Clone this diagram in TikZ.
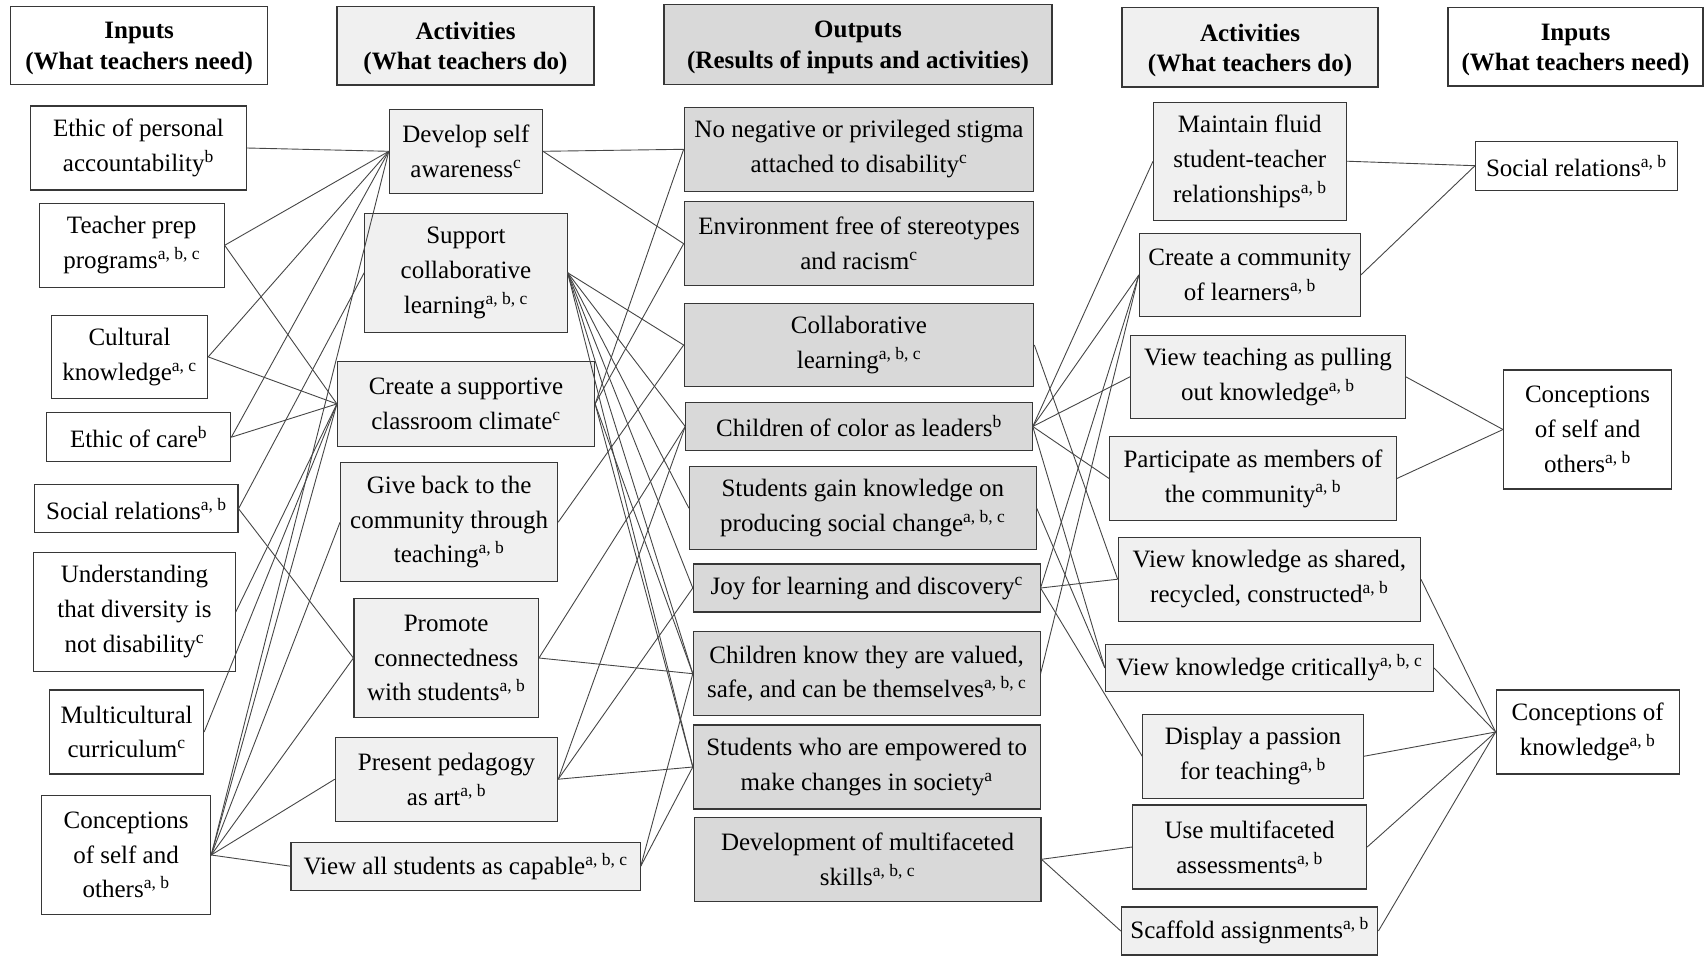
\documentclass[tikz,border=0pt]{standalone}
\usepackage{fontspec}
\setmainfont{Liberation Serif}
\definecolor{actfill}{RGB}{240,240,240}
\definecolor{outfill}{RGB}{217,217,217}
\definecolor{edgec}{RGB}{55,55,55}
\definecolor{linkc}{RGB}{70,70,70}
\begin{document}
\begin{tikzpicture}[x=1pt,y=-1pt,
  box/.style={draw=edgec, line width=1.1pt, align=center, inner sep=0pt, font=\fontsize{25}{34.8}\selectfont},
  sz/.style 2 args={minimum width=#1pt, minimum height=#2pt},
  inpbox/.style={box, fill=white},
  actbox/.style={box, fill=actfill},
  outbox/.style={box, fill=outfill},
  hdr/.style={align=center, inner sep=0pt, yshift=-3pt, font=\fontsize{25}{30.5}\selectfont\bfseries},
  link/.style={draw=linkc, line width=0.9pt}]
\useasboundingbox (0,0) rectangle (1705,956);
% headers
\node[inpbox,sz={256.6}{78.3}] (hIL) at (139.2,45.6) {};
\node[hdr] (tIL) at (hIL.center) {Inputs\\(What teachers need)};
\node[actbox,sz={257}{78.5}] (hAL) at (465.5,45.7) {};
\node[hdr] (tAL) at (hAL.center) {Activities\\(What teachers do)};
\node[outbox,sz={388}{79.7}] (hO) at (858,44.2) {};
\node[hdr] (tO) at (hO.center) {Outputs\\(Results of inputs and activities)};
\node[actbox,sz={256}{79.4}] (hAR) at (1250,47.3) {};
\node[hdr] (tAR) at (hAR.center) {Activities\\(What teachers do)};
\node[inpbox,sz={255}{78.4}] (hIR) at (1575.5,46.8) {};
\node[hdr] (tIR) at (hIR.center) {Inputs\\(What teachers need)};
% left inputs
\node[inpbox,sz={216}{84}] (epa) at (138.4,148) {Ethic of personal\\accountability\textsuperscript{b}};
\node[inpbox,sz={184.8}{84}] (tpp) at (131.7,245.3) {Teacher prep\\programs\textsuperscript{a, b, c}};
\node[inpbox,sz={156.3}{83.7}] (cul) at (129.5,356.9) {Cultural\\knowledge\textsuperscript{a, c}};
\node[inpbox,sz={184.4}{49}] (eoc) at (138.6,437.2) {Ethic of care\textsuperscript{b}};
\node[inpbox,sz={203.2}{48}] (srl) at (136.4,508.7) {Social relations\textsuperscript{a, b}};
\node[inpbox,sz={201.8}{119}] (und) at (134.4,611.8) {Understanding\\that diversity is\\not disability\textsuperscript{c}};
\node[inpbox,sz={154}{84}] (mcc) at (126.6,732) {Multicultural\\curriculum\textsuperscript{c}};
\node[inpbox,sz={169.2}{118.6}] (csl) at (126.1,855) {Conceptions\\of self and\\others\textsuperscript{a, b}};
% left activities
\node[actbox,sz={153.1}{84}] (dsa) at (465.9,151.3) {Develop self\\awareness\textsuperscript{c}};
\node[actbox,sz={202.3}{118.7}] (sco) at (465.9,272.7) {Support\\collaborative\\learning\textsuperscript{a, b, c}};
\node[actbox,sz={257.1}{84.3}] (clm) at (466,403.9) {Create a supportive\\classroom climate\textsuperscript{c}};
\node[actbox,sz={217}{119}] (gbk) at (449.1,522.2) {Give back to the\\community through\\teaching\textsuperscript{a, b}};
\node[actbox,sz={184.4}{119.4}] (pro) at (446.2,658) {Promote\\connectedness\\with students\textsuperscript{a, b}};
\node[actbox,sz={222.3}{83.7}] (ped) at (446.5,779.2) {Present pedagogy\\as art\textsuperscript{a, b}};
\node[actbox,sz={349.2}{47.7}] (vac) at (465.6,866.2) {View all students as capable\textsuperscript{a, b, c}};
% outputs
\node[outbox,sz={349.6}{84}] (nno) at (859,149.3) {No negative or privileged stigma\\attached to disability\textsuperscript{c}};
\node[outbox,sz={349.6}{84}] (env) at (859,243.7) {Environment free of stereotypes\\and racism\textsuperscript{c}};
\node[outbox,sz={349.6}{83.4}] (clr) at (859,345) {Collaborative\\learning\textsuperscript{a, b, c}};
\node[outbox,sz={346.4}{48.4}] (ccl) at (859,426.5) {Children of color as leaders\textsuperscript{b}};
\node[outbox,sz={346.7}{83}] (sgk) at (862.8,508.2) {Students gain knowledge on\\producing social change\textsuperscript{a, b, c}};
\node[outbox,sz={346.7}{48}] (joy) at (866.7,588) {Joy for learning and discovery\textsuperscript{c}};
\node[outbox,sz={346.7}{84}] (ckv) at (866.7,673.7) {Children know they are valued,\\safe, and can be themselves\textsuperscript{a, b, c}};
\node[outbox,sz={346.7}{84}] (emp) at (866.7,767) {Students who are empowered to\\make changes in society\textsuperscript{a}};
\node[outbox,sz={346.9}{84}] (dev) at (867.5,859.3) {Development of multifaceted\\skills\textsuperscript{a, b, c}};
% right activities
\node[actbox,sz={192.5}{118.3}] (mfr) at (1249.8,161.2) {Maintain fluid\\student-teacher\\relationships\textsuperscript{a, b}};
\node[actbox,sz={220.9}{83.4}] (ccm) at (1249.8,275) {Create a community\\of learners\textsuperscript{a, b}};
\node[actbox,sz={274.3}{83.3}] (vtp) at (1267.9,376.7) {View teaching as pulling\\out knowledge\textsuperscript{a, b}};
\node[actbox,sz={286.7}{83.6}] (pmc) at (1253,478.5) {Participate as members of\\the community\textsuperscript{a, b}};
\node[actbox,sz={302.2}{83.7}] (vks) at (1269.3,579.2) {View knowledge as shared,\\recycled, constructed\textsuperscript{a, b}};
\node[actbox,sz={328.1}{47.7}] (vkc) at (1269.4,667.9) {View knowledge critically\textsuperscript{a, b, c}};
\node[actbox,sz={220.4}{84}] (dpt) at (1253,756.3) {Display a passion\\for teaching\textsuperscript{a, b}};
\node[actbox,sz={234.1}{84}] (uma) at (1249.6,847) {Use multifaceted\\assessments\textsuperscript{a, b}};
\node[actbox,sz={256.5}{48}] (sca) at (1249.6,931) {Scaffold assignments\textsuperscript{a, b}};
% right inputs
\node[inpbox,sz={201.5}{48.7}] (srr) at (1576.3,165.7) {Social relations\textsuperscript{a, b}};
\node[inpbox,sz={167.9}{119}] (csr) at (1587.5,429.5) {Conceptions\\of self and\\others\textsuperscript{a, b}};
\node[inpbox,sz={183}{84}] (ckn) at (1587.7,732) {Conceptions of\\knowledge\textsuperscript{a, b}};
% left strip
\foreach \a/\b in {epa/dsa,tpp/dsa,tpp/clm,cul/dsa,cul/clm,eoc/dsa,eoc/clm,srl/sco,srl/pro,und/clm,mcc/clm,csl/dsa,csl/clm,csl/gbk,csl/pro,csl/ped,csl/vac}
  \draw[link] (\a.east) -- (\b.west);
% middle strip
\foreach \a/\b in {dsa/nno,dsa/env,sco/clr,sco/ccl,sco/sgk,sco/joy,sco/ckv,sco/emp,clm/nno,clm/env,clm/ckv,clm/emp,gbk/clr,pro/ckv,pro/ccl,ped/emp,ped/joy,ped/ccl,vac/emp,vac/ckv}
  \draw[link] (\a.east) -- (\b.west);
% right strip
\foreach \a/\b in {ccl/mfr,ccl/ccm,ccl/vtp,ccl/pmc,ccl/vkc,clr/vks,sgk/vkc,joy/ccm,joy/vks,joy/dpt,ckv/ccm,dev/uma,dev/sca}
  \draw[link] (\a.east) -- (\b.west);
% far right strip
\foreach \a/\b in {mfr/srr,ccm/srr,vtp/csr,pmc/csr,vks/ckn,vkc/ckn,dpt/ckn,uma/ckn,sca/ckn}
  \draw[link] (\a.east) -- (\b.west);
\end{tikzpicture}
\end{document}
